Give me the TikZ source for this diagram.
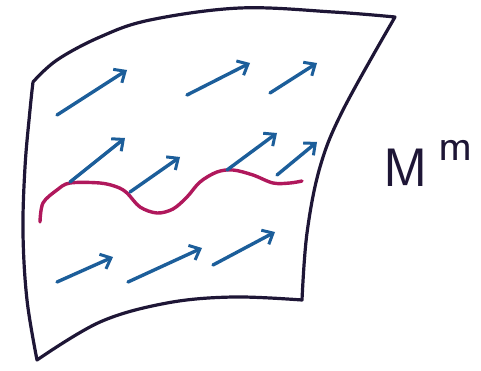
\documentclass[tikz,border=0pt]{standalone}
\usepackage{fontspec}
\usetikzlibrary{arrows.meta}
\definecolor{sheetc}{HTML}{1E1636}
\definecolor{vecc}{HTML}{1C5E9A}
\definecolor{curvec}{HTML}{B0185C}
\tikzset{
  sheet/.style={draw=sheetc, line width=3.2pt, line join=round, line cap=round},
  vec/.style={draw=vecc, line width=3.4pt, line cap=round, -{Straight Barb[length=9pt,width=16pt,line width=3pt]}},
  curv/.style={draw=curvec, line width=3.4pt, line cap=round},
}
\begin{document}
\begin{tikzpicture}[x=1pt,y=-1pt]
\useasboundingbox (0,0) rectangle (481,371);
% sheet outline
\draw[sheet] plot[smooth, tension=0.6] coordinates {(33,82) (57,60) (100,37) (150,20) (240,8) (333,12) (395,17)}
  -- plot[smooth, tension=0.6] coordinates {(395,17) (343,110) (320,167) (307,233) (302,300)}
  -- plot[smooth, tension=0.6] coordinates {(302,300) (233,297) (167,303) (100,322) (37,360)}
  -- plot[smooth, tension=0.6] coordinates {(37,360) (27,300) (23,233) (25,167) (30,110) (33,82)};
% curve
\draw[curv] plot[smooth, tension=0.55] coordinates {(40,222) (43,203) (57,190) (70,183) (100,183) (117,187) (127,193) (140,207) (157,213) (173,209) (187,197) (200,182) (217,172) (233,170) (253,175) (273,183) (290,183) (302,181)};
% vectors row 1
\draw[vec] (57,115) -- (127,70);
\draw[vec] (187,95) -- (250,63);
\draw[vec] (270,93) -- (317,63);
% row 2
\draw[vec] (70,182) -- (125,138);
\draw[vec] (130,192) -- (180,157);
\draw[vec] (227,170) -- (277,133);
\draw[vec] (277,175) -- (317,142);
% row 3
\draw[vec] (57,282) -- (113,257);
\draw[vec] (128,282) -- (202,248);
\draw[vec] (213,265) -- (275,232);
% label
\node[text=sheetc, font=\fontsize{54}{54}\selectfont\sffamily, anchor=base west, inner sep=0pt] (lbl) at (383,186) {M};
\node[text=sheetc, font=\fontsize{46}{46}\selectfont\sffamily, anchor=base west, inner sep=0pt] (sup) at (438,161) {m};
\end{tikzpicture}
\end{document}
